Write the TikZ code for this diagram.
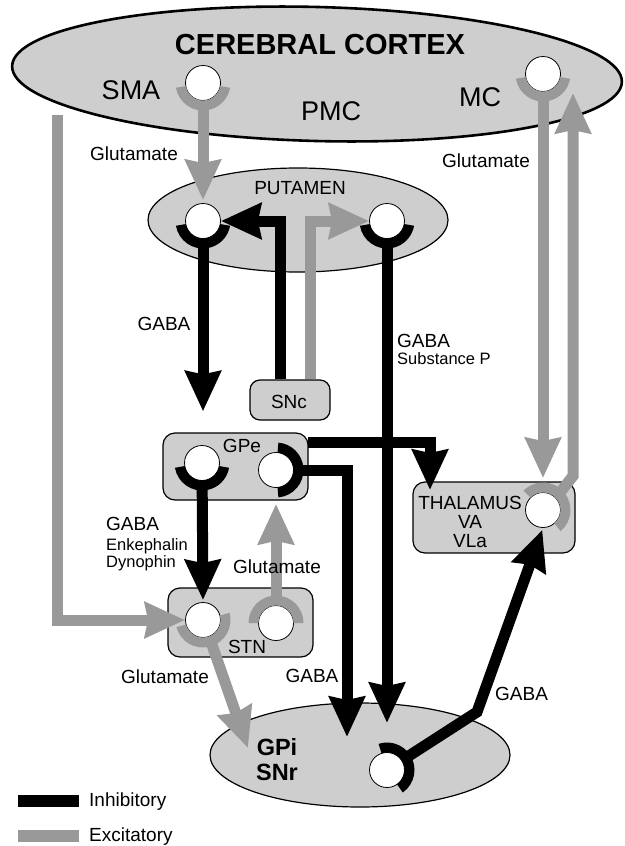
\documentclass[tikz,border=0pt]{standalone}
\usepackage{fontspec}
\setmainfont{Liberation Sans}
\usetikzlibrary{arrows.meta,shapes.geometric,calc}

\pgfdeclarelayer{regions}
\pgfdeclarelayer{paths}
\pgfsetlayers{regions,paths,main}

\definecolor{regionfill}{RGB}{206,206,206}
\definecolor{excgray}{RGB}{153,153,153}

\tikzset{
  region/.style={draw=black, line width=1.2pt, fill=regionfill, inner sep=0pt},
  oval/.style={region, ellipse},
  box/.style={region, rectangle, rounded corners=12pt},
  cell/.style={circle, draw=black, line width=0.8pt, fill=white, minimum size=35pt, inner sep=0pt},
  fibre/.style={line width=11pt, line join=miter, -{Stealth[length=40pt, width=35pt, inset=3pt]}},
  inh/.style={fibre, draw=black},
  exc/.style={fibre, draw=excgray},
  lbl/.style={font=\fontsize{19}{22}\selectfont, anchor=base, inner sep=0pt},
  sublbl/.style={font=\fontsize{16.5}{19}\selectfont, anchor=base west, inner sep=0pt},
  area/.style={font=\fontsize{27}{30}\selectfont, anchor=base, inner sep=0pt},
  boldlbl/.style={font=\bfseries\fontsize{23.5}{26}\selectfont, anchor=base, inner sep=0pt},
}

% synaptic terminal: annular sector around a cell, from angle #2 to #3
\newcommand\synapse[4]{%
  \fill[#4] ([shift={(#2:27.5)}]#1.center) arc[start angle=#2, end angle=#3, radius=27.5]
    -- ([shift={(#3:17.5)}]#1.center) arc[start angle=#3, end angle=#2, radius=17.5] -- cycle;}

\begin{document}
\begin{tikzpicture}[x=1pt,y=1pt]
\useasboundingbox (0,0) rectangle (624,-846);

% brain regions
\begin{pgfonlayer}{regions}
  \node[oval, line width=2.6pt, minimum width=610pt, minimum height=134pt, rotate=-1.5] (ctx) at (317,-74) {};
  \node[oval, minimum width=300pt, minimum height=104pt] (put) at (298,-220) {};
  \node[oval, minimum width=300pt, minimum height=104pt] (gpi) at (360,-755) {};
  \node[box, rounded corners=10pt, minimum width=80pt, minimum height=40pt] (snc) at (290,-400) {};
  \node[box, minimum width=145pt, minimum height=67pt] (gpe) at (235.5,-466.5) {};
  \node[box, minimum width=145pt, minimum height=69pt] (stn) at (240.5,-622.5) {};
  \node[box, minimum width=162pt, minimum height=71pt] (thal) at (494,-517.5) {};
\end{pgfonlayer}

% neurons
\node[cell] (nSMA)  at (203,-83)  {};
\node[cell] (nMC)   at (543,-74)  {};
\node[cell] (nPutL) at (203,-221) {};
\node[cell] (nPutR) at (387,-221) {};
\node[cell] (nGPeL) at (202,-463) {};
\node[cell] (nGPeR) at (276,-470) {};
\node[cell] (nSTNL) at (203,-620) {};
\node[cell] (nSTNR) at (276,-623) {};
\node[cell] (nThal) at (543,-510) {};
\node[cell] (nGPi)  at (387,-770) {};

% bends and free ends of the pathways
\coordinate (ctxOut)   at (57,-115);
\coordinate (mcIn)     at (573,-93);
\coordinate (thalBend) at (573,-476);
\coordinate (thalIn)   at (430,-490);
\coordinate (gpeOut)   at (308,-442);
\coordinate (gpiInL)   at (347,-737);
\coordinate (gpiInR)   at (387,-723);
\coordinate (gpiInS)   at (248,-748);
\coordinate (gpiBend)  at (477,-712);

% pathways
\begin{pgfonlayer}{paths}
  \draw[exc, shorten >=3pt] (nSMA) -- (nPutL.north);
  \draw[exc] (nMC) -- ([yshift=14pt]nThal.north);
  \draw[exc] ([shift={(45:22)}]nThal.center) -- (thalBend) -- (mcIn);
  \draw[inh] ([xshift=-10pt]snc.north) |- (nPutL.east);
  \draw[exc] ([xshift=20pt]snc.north) |- (nPutR.west);
  \draw[inh, shorten >=21pt] (nPutL) -- (nPutL |- gpe.north);
  \draw[inh] (nPutR) -- (gpiInR);
  \draw[inh] (nGPeR) -| (gpiInL);
  \draw[inh] (gpeOut) -| (thalIn);
  \draw[inh, shorten >=2pt] (nGPeL) -- (nSTNL.north);
  \draw[exc, shorten >=16pt] (nSTNR) -- (nGPeR.south);
  \draw[exc] (ctxOut) |- (nSTNL.west);
  \draw[exc] ([shift={(-70:22)}]nSTNL.center) -- (gpiInS);
  \draw[inh, shorten >=2pt] (nGPi) -- (gpiBend) -- (nThal.south);
\end{pgfonlayer}

% synaptic terminals
\synapse{nSMA}{190}{350}{excgray}
\synapse{nMC}{190}{350}{excgray}
\synapse{nPutL}{190}{350}{black}
\synapse{nPutR}{190}{350}{black}
\synapse{nGPeL}{190}{350}{black}
\synapse{nGPeR}{-85}{85}{black}
\synapse{nSTNL}{195}{375}{excgray}
\synapse{nSTNR}{0}{180}{excgray}
\synapse{nGPi}{-55}{108}{black}
\synapse{nThal}{-50}{135}{excgray}

% labels
\node[font=\bfseries\fontsize{29}{32}\selectfont, anchor=base, inner sep=0pt] (tCtx) at (320,-54.4) {CEREBRAL CORTEX};
\node[area] (tSMA) at (131,-99) {SMA};
\node[area] (tPMC) at (331,-120.5) {PMC};
\node[area] (tMC)  at (480,-106.5) {MC};
\node[lbl] (tGluL) at (134,-160) {Glutamate};
\node[lbl] (tGluR) at (486,-167) {Glutamate};
\node[lbl] (tPut)  at (300,-194) {PUTAMEN};
\node[lbl] (tGabaL) at (164,-330) {GABA};
\node[lbl, anchor=base west] (tGabaR) at (397,-347) {GABA};
\node[sublbl] (tSubP) at (397,-364) {Substance P};
\node[lbl] (tSNc) at (289,-408) {SNc};
\node[lbl] (tGPe) at (242,-452) {GPe};
\node[lbl, anchor=base west] (tGabaE) at (106,-530) {GABA};
\node[sublbl] (tEnk) at (106,-550) {Enkephalin};
\node[sublbl] (tDyn) at (106,-567) {Dynophin};
\node[lbl] (tGluM) at (277,-573) {Glutamate};
\node[lbl] (tThal) at (470,-509) {THALAMUS};
\node[lbl] (tVA)   at (470,-528) {VA};
\node[lbl] (tVLa)  at (470,-547) {VLa};
\node[lbl] (tSTN)  at (247,-653) {STN};
\node[lbl] (tGluS) at (165,-683) {Glutamate};
\node[lbl] (tGabaM) at (312,-682) {GABA};
\node[lbl, anchor=base west] (tGabaT) at (495,-700) {GABA};
\node[boldlbl] (tGPi) at (277,-755) {GPi};
\node[boldlbl] (tSNr) at (277,-780) {SNr};

% legend
\fill[black]   (18,-795) rectangle (79,-807);
\fill[excgray] (18,-830) rectangle (79,-842);
\node[lbl, anchor=base west] (tInh) at (89,-806) {Inhibitory};
\node[lbl, anchor=base west] (tExc) at (89,-841) {Excitatory};
\end{tikzpicture}
\end{document}
